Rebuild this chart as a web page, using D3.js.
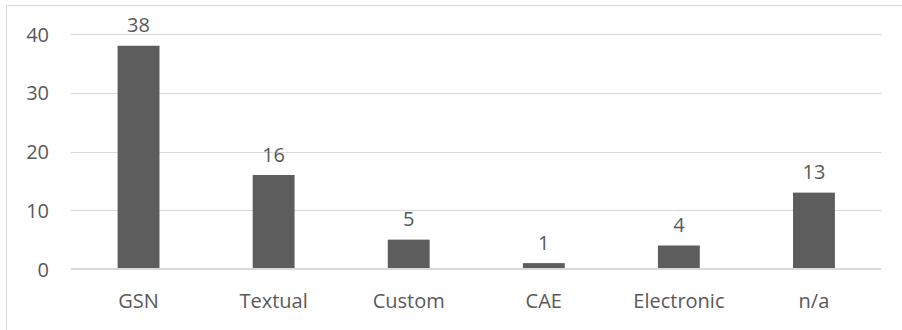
<!DOCTYPE html>
<html>
<head>
<meta charset="utf-8">
<script src="https://cdn.jsdelivr.net/npm/d3@7"></script>
<style>
  html, body { margin: 0; padding: 0; background: #fff; }
  svg { display: block; }
  text { font-family: "Open Sans", Lato, sans-serif; fill: #595959; }
</style>
</head>
<body>
<svg id="chart" width="902" height="330"></svg>
<script>
// Counts per notation category
const categories = ["GSN", "Textual", "Custom", "CAE", "Electronic", "n/a"];
const counts = [38, 16, 5, 1, 4, 13];
const yTicks = [0, 10, 20, 30, 40];

const FONT = "'Open Sans', Lato, sans-serif";
const FS = 20;

const svg = d3.select("#chart");
const plot = { left: 71, right: 881.5, top: 34, bottom: 269 };

// Outer frame of the chart area
svg.append("rect")
  .attr("x", 6.5).attr("y", 5.5)
  .attr("width", 1000).attr("height", 1000)
  .attr("fill", "none")
  .attr("stroke", "#d9d9d9")
  .attr("stroke-width", 1);

const x = d3.scaleBand()
  .domain(categories)
  .range([plot.left, plot.right])
  .paddingInner(0.69)
  .paddingOuter(0.345);

const y = d3.scaleLinear()
  .domain([0, 40])
  .range([plot.bottom, plot.top]);

// Horizontal gridlines
svg.append("g")
  .selectAll("line")
  .data(yTicks.filter(t => t !== 0))
  .join("line")
  .attr("x1", plot.left).attr("x2", plot.right)
  .attr("y1", d => Math.round(y(d)) + 0.5)
  .attr("y2", d => Math.round(y(d)) + 0.5)
  .attr("stroke", "#d9d9d9")
  .attr("stroke-width", 1);

// Y axis labels
const yAxis = d3.axisLeft(y).tickValues(yTicks).tickSize(0).tickPadding(0);
const gy = svg.append("g")
  .attr("transform", `translate(${plot.left - 22},0)`)
  .call(yAxis);
gy.select(".domain").remove();
gy.selectAll("text")
  .attr("font-size", FS)
  .attr("dy", "0.36em")
  .style("font-family", FONT)
  .attr("fill", "#595959");

// Bars
svg.append("g")
  .selectAll("rect")
  .data(categories.map((c, i) => ({ c, v: counts[i] })))
  .join("rect")
  .attr("x", d => x(d.c))
  .attr("width", x.bandwidth())
  .attr("y", d => y(d.v))
  .attr("height", d => y(0) - y(d.v))
  .attr("fill", "#5d5d5d");

// Baseline axis
svg.append("line")
  .attr("x1", plot.left).attr("x2", plot.right)
  .attr("y1", y(0)).attr("y2", y(0))
  .attr("stroke", "#d9d9d9")
  .attr("stroke-width", 2);

// Value labels above bars
svg.append("g")
  .selectAll("text")
  .data(categories.map((c, i) => ({ c, v: counts[i] })))
  .join("text")
  .attr("x", d => x(d.c) + x.bandwidth() / 2)
  .attr("y", d => y(d.v) - 13.5)
  .attr("text-anchor", "middle")
  .attr("font-size", FS)
  .text(d => d.v);

// Category labels
const xAxis = d3.axisBottom(x).tickSize(0).tickPadding(0);
const gx = svg.append("g")
  .attr("transform", `translate(0,${plot.bottom})`)
  .call(xAxis);
gx.select(".domain").remove();
gx.selectAll("text")
  .attr("y", 38.5)
  .attr("dy", 0)
  .attr("font-size", FS)
  .style("font-family", FONT)
  .attr("fill", "#595959");
</script>
</body>
</html>
